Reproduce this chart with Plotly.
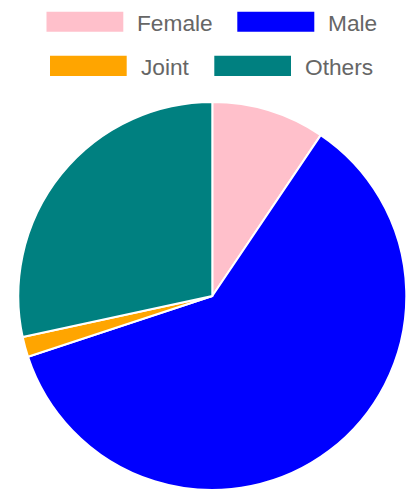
import plotly.graph_objects as go

labels = ["Female", "Male", "Joint", "Others"]
values = [9.44, 60.5, 1.67, 28.4]
colors = ["#FFC0CB", "#0000FF", "#FFA500", "#008080"]

W, H = 414, 494
cx, cy, r = 212.3, 296.0, 194.0

fig = go.Figure(go.Pie(
    labels=labels,
    values=values,
    sort=False,
    direction="clockwise",
    rotation=0,
    marker=dict(colors=colors, line=dict(color="#FFFFFF", width=2)),
    textinfo="none",
    hoverinfo="label+value",
    showlegend=False,
    domain=dict(x=[(cx - r) / W, (cx + r) / W], y=[1 - (cy + r) / H, 1 - (cy - r) / H]),
))

# manual legend layout (pixel positions of boxes: left, top, right, bottom)
legend_boxes = [(46.5, 11.7, 123.3, 31.7), (237.3, 11.7, 314.3, 31.7),
                (50.0, 55.7, 126.7, 76.0), (214.3, 55.7, 291.0, 76.0)]
text_gap = 12.0

shapes = []
annotations = []
for lab, col, (x0, y0, x1, y1) in zip(labels, colors, legend_boxes):
    shapes.append(dict(type="rect", xref="paper", yref="paper",
                       x0=x0 / W, x1=x1 / W, y0=1 - y1 / H, y1=1 - y0 / H,
                       fillcolor=col, line=dict(width=0)))
    annotations.append(dict(text=lab, xref="paper", yref="paper",
                            x=(x1 + text_gap) / W, y=1 - ((y0 + y1) / 2 + 0.8) / H,
                            xanchor="left", yanchor="middle", showarrow=False,
                            font=dict(family="Liberation Sans, Arial, sans-serif", size=22.7, color="#666666")))

fig.update_layout(
    width=W, height=H,
    margin=dict(l=0, r=0, t=0, b=0),
    paper_bgcolor="#FFFFFF",
    plot_bgcolor="#FFFFFF",
    shapes=shapes,
    annotations=annotations,
)

fig.write_html("out.html", config={"displayModeBar": False},
               post_script="document.body.style.margin='0';")
